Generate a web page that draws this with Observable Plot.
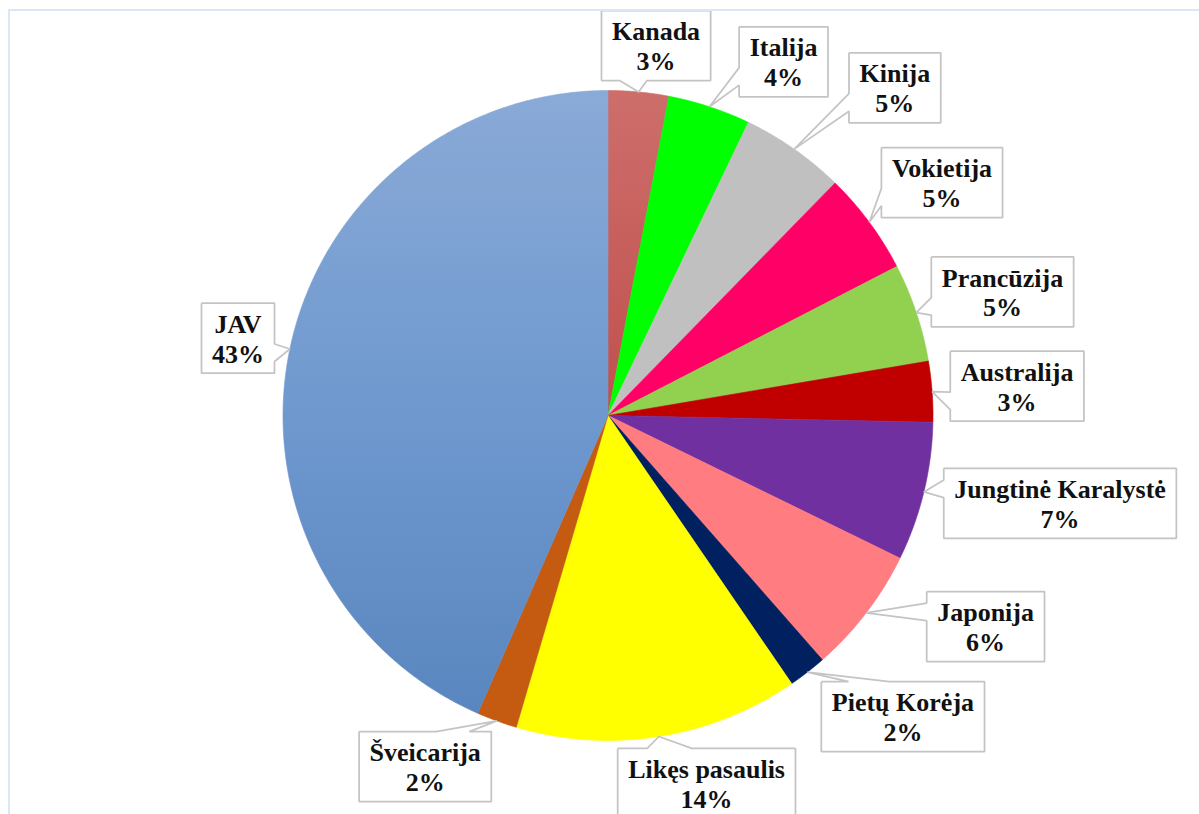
<!DOCTYPE html>
<html>
<head>
<meta charset="utf-8">
<script src="https://cdn.jsdelivr.net/npm/d3@7"></script>
<script src="https://cdn.jsdelivr.net/npm/@observablehq/plot@0.6"></script>
<style>
  html, body { margin: 0; padding: 0; background: #fff; overflow: hidden; }
  #wrap { position: relative; width: 1199px; height: 814px; overflow: hidden; }
  #frame { position: absolute; left: 8px; top: 9px; width: 1400px; height: 1000px;
           border: 2px solid #DCE6F5; box-sizing: border-box; pointer-events: none; }
  #chart { position: absolute; left: 0; top: 0; }
  #chart svg text { font-family: "Liberation Serif", "Times New Roman", "DejaVu Serif", serif !important; }
</style>
</head>
<body>
<div id="wrap"><div id="chart"></div><div id="frame"></div></div>
<script>
// ---- data ----
const countries = ["Kanada", "Italija", "Kinija", "Vokietija", "Prancūzija", "Australija",
  "Jungtinė Karalystė", "Japonija", "Pietų Korėja", "Likęs pasaulis", "Šveicarija", "JAV"];
const shares = [3.0, 4.1, 5.2, 5.1, 4.9, 3.0, 6.9, 6.3, 1.9, 14.1, 2.0, 43.4];
const sliceColors = ["url(#gradKanada)", "#00FF00", "#C0C0C0", "#FF0066", "#92D050", "#C00000",
  "#7030A0", "#FF7C80", "#002060", "#FFFF00", "#C55A11", "url(#gradJAV)"];

// ---- label layout (callout box centre: degrees clockwise from 12 o'clock, distance in pie radii) ----
const labelAngle = [7.4, 26.4, 41.2, 55.1, 72.6, 85.9, 101.0, 119.2, 135.6, 165.0, 207.5, 281.8];
const labelDist  = [1.148, 1.215, 1.340, 1.253, 1.272, 1.262, 1.417, 1.331, 1.297, 1.172, 1.218, 1.163];

// ---- geometry ----
const W = 1199, H = 814, R = 325, CX = 607.5, CY = 415;
const FONT_SIZE = 26, FONT = "Liberation Serif";
const toX = px => (px - CX) / R;
const toY = py => (CY - py) / R;

const total = d3.sum(shares);
const pcts = shares.map(v => Math.round(v / total * 100) + "%");
const arcs = d3.pie().sort(null).value(d => d)(shares);

// slices
const slicePts = arcs.map((p, i) => {
  const pts = [{x: 0, y: 0, k: i}];
  const n = Math.max(4, Math.ceil((p.endAngle - p.startAngle) / (Math.PI / 360)));
  for (let j = 0; j <= n; j++) {
    const a = p.startAngle + (p.endAngle - p.startAngle) * j / n;
    pts.push({x: Math.sin(a), y: Math.cos(a), k: i});
  }
  pts.push({x: 0, y: 0, k: i});
  return pts;
});

// text measuring
const ctx = document.createElement("canvas").getContext("2d");
ctx.font = `bold ${FONT_SIZE}px "${FONT}"`;
const tw = s => ctx.measureText(s).width;

// callouts (Excel wedgeRectCallout geometry)
const callouts = [];
const labels = [];
arcs.forEach((p, i) => {
  const mid = (p.startAngle + p.endAngle) / 2;
  const tx = CX + R * Math.sin(mid), ty = CY - R * Math.cos(mid);
  const la = labelAngle[i] * Math.PI / 180;
  const cx = CX + R * labelDist[i] * Math.sin(la), cy = CY - R * labelDist[i] * Math.cos(la);
  const w = Math.max(tw(countries[i]), tw(pcts[i])) + 21, h = 70;
  const l = cx - w / 2, r = cx + w / 2, t = cy - h / 2, b = cy + h / 2;
  const dx = tx - cx, dy = ty - cy, dq = dx * h / w;
  const side = Math.abs(dy) > Math.abs(dq) ? (dy < 0 ? "top" : "bottom") : (dx < 0 ? "left" : "right");
  const x1 = l + w * (dx > 0 ? 7 : 2) / 12, x2 = l + w * (dx > 0 ? 10 : 5) / 12;
  const y1 = t + h * (dy > 0 ? 7 : 2) / 12, y2 = t + h * (dy > 0 ? 10 : 5) / 12;
  const pts = [[l, t]];
  if (side === "top") pts.push([x1, t], [tx, ty], [x2, t]);
  pts.push([r, t]);
  if (side === "right") pts.push([r, y1], [tx, ty], [r, y2]);
  pts.push([r, b]);
  if (side === "bottom") pts.push([x2, b], [tx, ty], [x1, b]);
  pts.push([l, b]);
  if (side === "left") pts.push([l, y2], [tx, ty], [l, y1]);
  pts.push([l, t]);
  pts.forEach(([px, py]) => callouts.push({x: toX(px), y: toY(py), k: i}));
  labels.push({x: toX(cx), y: toY(cy), text: countries[i] + "\n" + pcts[i]});
});

const svg = Plot.plot({
  width: W, height: H, margin: 0,
  x: {domain: [toX(0), toX(W)], axis: null},
  y: {domain: [toY(H), toY(0)], axis: null},
  style: {background: "transparent", overflow: "visible", fontFamily: "'Liberation Serif', serif"},
  marks: [
    ...slicePts.map((pts, i) => Plot.line(pts, {
      x: "x", y: "y", fill: sliceColors[i], stroke: sliceColors[i], strokeWidth: 0.6
    })),
    Plot.line(callouts, {
      x: "x", y: "y", z: "k", fill: "white", stroke: "#C4C4C4", strokeWidth: 1.75,
      strokeLinejoin: "miter", strokeLinecap: "butt"
    }),
    Plot.text(labels, {
      x: "x", y: "y", text: "text", fontSize: FONT_SIZE, fontWeight: "bold",
      fontFamily: "'Liberation Serif', serif", lineHeight: 1.15, fill: "#111", dy: 0
    })
  ]
});

const defs = d3.select(svg).insert("defs", ":first-child");
function grad(id, stops) {
  const g = defs.append("linearGradient").attr("id", id)
    .attr("x1", 0).attr("y1", 0).attr("x2", 0).attr("y2", 1);
  stops.forEach(([o, c]) => g.append("stop").attr("offset", o).attr("stop-color", c));
}
grad("gradJAV", [[0, "#8AAAD7"], [0.5, "#6F99CF"], [1, "#5A86BF"]]);
grad("gradKanada", [[0, "#CD6E6B"], [1, "#C0504D"]]);

document.getElementById("chart").appendChild(svg);
</script>
</body>
</html>
